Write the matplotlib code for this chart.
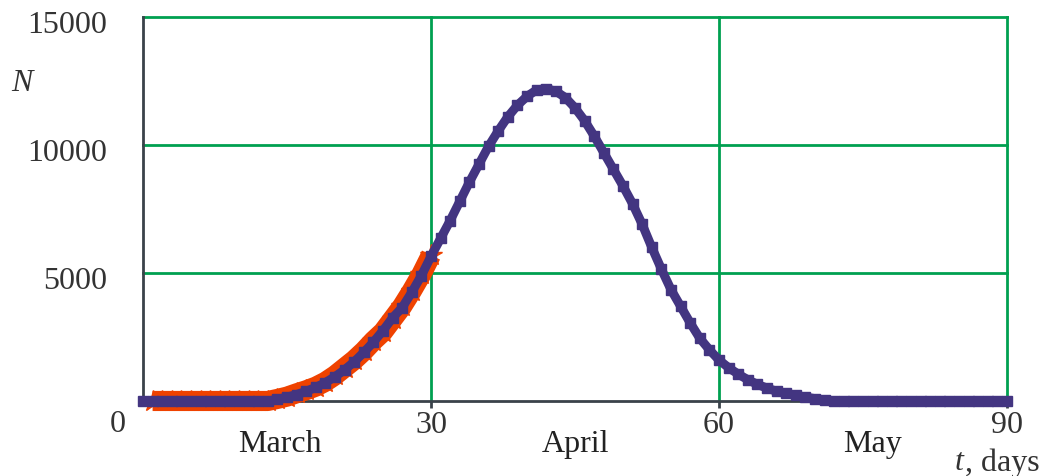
import matplotlib
matplotlib.use("Agg")
import matplotlib.pyplot as plt
from matplotlib.transforms import ScaledTranslation

plt.rcParams['font.family'] = ['Liberation Serif', 'DejaVu Serif']

# model curve, one value per day (t = 0..90)
model_t = list(range(0, 91))
model_n = [0] * 14 + [
    60, 150, 250, 380, 530, 720, 950, 1220, 1530, 1900,      # 14-23
    2300, 2750, 3250, 3650, 4250, 4900, 5650, 6350, 7050, 7800,  # 24-33
    8550, 9250, 9950, 10550, 11100, 11550, 11900, 12150, 12200, 12100,  # 34-43
    11850, 11450, 10950, 10350, 9700, 9050, 8400, 7700, 6900, 6000,  # 44-53
    5150, 4350, 3700, 3050, 2450, 2000, 1600, 1300, 1050, 830,  # 54-63
    650, 500, 380, 300, 220, 150, 90, 40, 10,                  # 64-72
] + [0] * 18

# observed cases, March
obs_t = list(range(1, 31))
obs_n = [0] * 13 + [
    80, 170, 300, 420, 560, 750, 1000, 1300, 1600, 1950,
    2350, 2700, 3200, 3700, 4300, 4950, 5700,
]

month_names = ["March", "April", "May"]
month_pos = [14.3, 45, 76]

orange = "#ef4200"
blue = "#433581"
green = "#00a050"
axis_col = "#3a424a"
txt = '#333333'
fs = 23

fig = plt.figure(figsize=(10.43, 4.76), dpi=100)
ax = fig.add_axes([0.1371, 0.1576, 0.8284, 0.8067])

ax.set_xlim(0, 90)
ax.set_ylim(0, 15000)

# grid lines
for x in [30, 60, 90]:
    ax.axvline(x, color=green, lw=2, zorder=1, clip_on=False)
for y in [5000, 10000, 15000]:
    ax.axhline(y, color=green, lw=2, zorder=1, clip_on=False)

ax.plot(obs_t, obs_n, color=orange, lw=14.5, marker='*', ms=16,
        solid_capstyle='butt', zorder=3, clip_on=False)
ax.plot(model_t, model_n, color=blue, lw=6.5, marker='s', ms=6.5,
        solid_capstyle='butt', zorder=4, clip_on=False)

for s in ['top', 'right']:
    ax.spines[s].set_visible(False)
for s in ['left', 'bottom']:
    ax.spines[s].set_color(axis_col)
    ax.spines[s].set_linewidth(2)
    ax.spines[s].set_zorder(2)

ax.set_xticks([30, 60, 90])
ax.set_xticklabels(["30", "60", "90"])
ax.set_yticks([5000, 10000, 15000])
ax.set_yticklabels(["5000", "10000", "15000"])
ax.tick_params(axis='x', length=5, width=2, color=axis_col, pad=2,
               labelsize=fs, labelcolor=txt)
ax.tick_params(axis='y', length=0, pad=26, labelsize=fs, labelcolor=txt)
shift = ScaledTranslation(0, -5 / 100, fig.dpi_scale_trans)
for lab in ax.get_yticklabels():
    lab.set_transform(lab.get_transform() + shift)

ax.text(-2.6, -920, "0", fontsize=fs, color=txt, ha='center', va='center')
for name, pos in zip(month_names, month_pos):
    ax.text(pos, -1150, name, fontsize=fs, color='#222222', ha='center', va='top')

ax.text(-12.6, 12400, "N", fontsize=fs, style='italic', color=txt,
        ha='center', va='center')
ax.text(85.5, -1850, "t", fontsize=fs, style='italic', color=txt, ha='right', va='top')
ax.text(93.4, -1850, ", days", fontsize=fs, color=txt, ha='right', va='top')

fig.savefig("out.png", dpi=100)
